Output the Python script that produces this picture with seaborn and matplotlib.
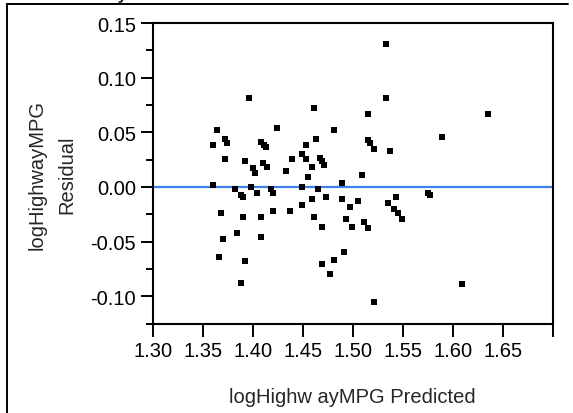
import numpy as np
import pandas as pd
import matplotlib.pyplot as plt
import seaborn as sns
from matplotlib.ticker import FixedLocator, MultipleLocator
from matplotlib.lines import Line2D

predicted = [1.3966, 1.3646, 1.4246, 1.3606, 1.3726, 1.3746, 1.4086, 1.4110, 1.4130, 1.3726,
             1.3926, 1.4006, 1.4026, 1.4106, 1.4146, 1.4330, 1.3606, 1.3826, 1.3886, 1.3906,
             1.3986, 1.4046, 1.4186, 1.4206, 1.3686, 1.3906, 1.4086, 1.4206, 1.3846, 1.4086,
             1.3706, 1.3666, 1.3926, 1.3886,
             1.4610, 1.4810, 1.4630, 1.4530, 1.4390, 1.4490, 1.4530, 1.4670, 1.4690, 1.4710,
             1.4590, 1.4550, 1.4490, 1.4650, 1.4890, 1.4590, 1.4730, 1.4890, 1.4970, 1.5050,
             1.4370, 1.4490, 1.4610, 1.4690, 1.4930, 1.4990, 1.4910, 1.4810, 1.4690, 1.4770,
             1.5333, 1.5333, 1.5153, 1.5153, 1.5173, 1.5213, 1.5373, 1.5093, 1.5753, 1.5773,
             1.5433, 1.5353, 1.5413, 1.5453, 1.5493, 1.5113, 1.5153, 1.5213,
             1.6356, 1.5896, 1.6096]
residual = [0.0810, 0.0517, 0.0535, 0.0388, 0.0443, 0.0406, 0.0413, 0.0388, 0.0367, 0.0260,
            0.0241, 0.0174, 0.0131, 0.0223, 0.0186, 0.0147, 0.0015, -0.0016, -0.0071, -0.0092,
            0.0003, -0.0055, -0.0016, -0.0055, -0.0239, -0.0275, -0.0275, -0.0224, -0.0422, -0.0459,
            -0.0477, -0.0642, -0.0679, -0.0881,
            0.0718, 0.0517, 0.0443, 0.0388, 0.0260, 0.0299, 0.0260, 0.0266, 0.0241, 0.0198,
            0.0183, 0.0094, 0.0003, -0.0016, 0.0037, -0.0107, -0.0092, -0.0107, -0.0183, -0.0128,
            -0.0220, -0.0165, -0.0275, -0.0367, -0.0291, -0.0367, -0.0591, -0.0664, -0.0701, -0.0793,
            0.1308, 0.0813, 0.0663, 0.0428, 0.0404, 0.0349, 0.0333, 0.0113, -0.0052, -0.0073,
            -0.0092, -0.0147, -0.0202, -0.0239, -0.0294, -0.0325, -0.0373, -0.1052,
            0.0663, 0.0461, -0.0884]

# Axis ticks, the last x tick has no label in the original
x_ticks = [1.30, 1.35, 1.40, 1.45, 1.50, 1.55, 1.60, 1.65, 1.70]
x_tick_labels = ["1.30", "1.35", "1.40", "1.45", "1.50", "1.55", "1.60", "1.65", ""]
y_ticks = [-0.10, -0.05, 0.00, 0.05, 0.10, 0.15]
y_tick_labels = ["-0.10", "-0.05", "0.00", "0.05", "0.10", "0.15"]

df = pd.DataFrame({"Predicted": predicted, "Residual": residual})

sns.set_style("ticks")
plt.rcParams["font.family"] = ["Liberation Sans", "DejaVu Sans"]
plt.rcParams["axes.unicode_minus"] = False

fig = plt.figure(figsize=(5.73, 4.14), dpi=100)
ax = fig.add_axes([0.2665, 0.215, 0.698, 0.727])

# Zero reference line sits under the points
ax.axhline(0, color="#3f80ea", lw=1.6, zorder=1)
sns.scatterplot(data=df, x="Predicted", y="Residual", marker="s", s=14,
                color="black", linewidth=0, ax=ax, zorder=2)

ax.set_xlim(1.30, 1.70)
ax.set_ylim(-0.1254, 0.15)
ax.xaxis.set_major_locator(FixedLocator(x_ticks))
ax.set_xticklabels(x_tick_labels)
ax.yaxis.set_major_locator(FixedLocator(y_ticks))
ax.set_yticklabels(y_tick_labels)
ax.yaxis.set_minor_locator(MultipleLocator(0.025))

ax.tick_params(axis="both", which="major", labelsize=14.5, length=9, width=1.4,
               color="black", labelcolor="black", pad=3)
ax.tick_params(axis="y", which="minor", length=5, width=1.4, color="black")
for side in ["left", "bottom", "top", "right"]:
    ax.spines[side].set_visible(True)
    ax.spines[side].set_linewidth(1.5)
    ax.spines[side].set_color("black")

ax.set_xlabel("logHighw ayMPG Predicted", fontsize=14.5, labelpad=20)
ax.set_ylabel("logHighwayMPG\nResidual", fontsize=14.5, labelpad=10, linespacing=1.75)

# Outer report frame (top and left edges) and the clipped title above it
fig.add_artist(Line2D([7 / 573, 568 / 573], [1 - 5 / 414, 1 - 5 / 414],
                      transform=fig.transFigure, color="black", lw=1.4))
fig.add_artist(Line2D([7 / 573, 7 / 573], [0, 1 - 5 / 414],
                      transform=fig.transFigure, color="black", lw=1.4))
fig.text(34 / 573, 1.0, "Residual by Predicted Plot", fontsize=12, fontweight="bold",
         ha="left", va="baseline")

plt.savefig("out.png", dpi=100)
plt.close(fig)
